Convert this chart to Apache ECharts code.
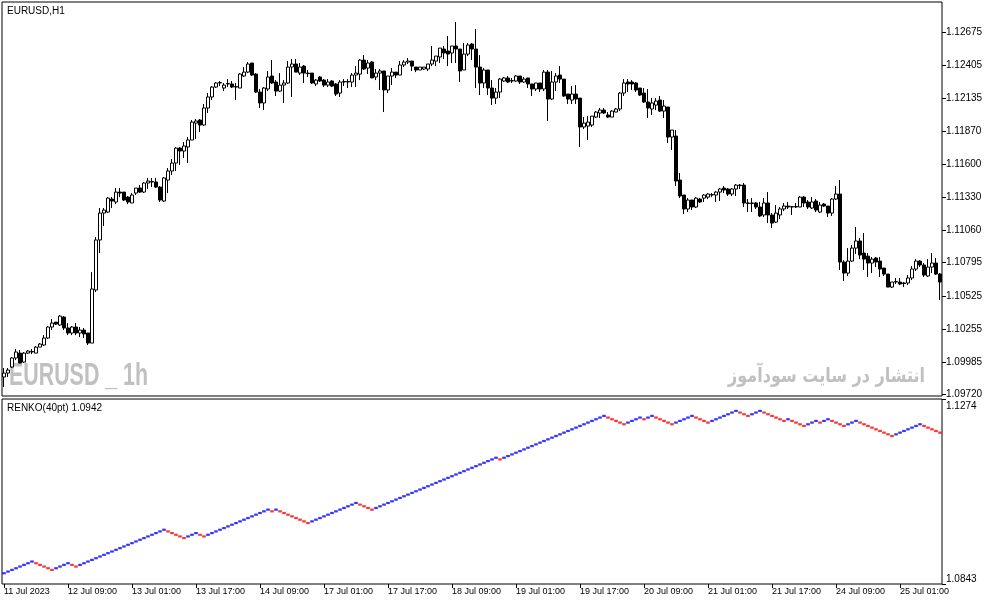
<!DOCTYPE html>
<html>
<head>
<meta charset="UTF-8">
<title>EURUSD H1 - Renko</title>
<style>
html,body{margin:0;padding:0;background:#fff;}
#main{width:987px;height:605px;}
</style>
</head>
<body>
<div id="main"></div>
<script src="https://cdn.jsdelivr.net/npm/echarts@6.0.0/dist/echarts.min.js"></script>
<script>
// hourly candles, [open, close, low, high]
var ohlc = [
[1.09862,1.09894,1.09780,1.09935],[1.09894,1.09919,1.09862,1.09935],[1.09943,1.10017,1.09935,1.10025],[1.10017,1.10066,1.10000,1.10090],
[1.10057,1.09976,1.09976,1.10082],[1.09984,1.10057,1.09976,1.10066],[1.10057,1.10074,1.10049,1.10082],[1.10066,1.10070,1.10049,1.10090],
[1.10057,1.10106,1.10057,1.10115],[1.10106,1.10131,1.10106,1.10139],[1.10123,1.10180,1.10115,1.10204],[1.10180,1.10270,1.10172,1.10278],
[1.10270,1.10302,1.10245,1.10335],[1.10310,1.10294,1.10286,1.10310],[1.10286,1.10359,1.10278,1.10368],[1.10351,1.10262,1.10245,1.10359],
[1.10262,1.10221,1.10204,1.10302],[1.10221,1.10270,1.10204,1.10278],[1.10270,1.10221,1.10204,1.10302],[1.10221,1.10245,1.10188,1.10270],
[1.10245,1.10213,1.10180,1.10262],[1.10221,1.10139,1.10123,1.10221],[1.10139,1.10580,1.10139,1.10718],[1.10572,1.10980,1.10555,1.11004],
[1.10980,1.11200,1.10873,1.11241],[1.11200,1.11224,1.11094,1.11241],[1.11208,1.11322,1.11200,1.11330],[1.11314,1.11298,1.11241,1.11330],
[1.11290,1.11371,1.11273,1.11404],[1.11371,1.11363,1.11330,1.11404],[1.11371,1.11306,1.11298,1.11371],[1.11330,1.11290,1.11273,1.11339],
[1.11282,1.11347,1.11282,1.11363],[1.11363,1.11404,1.11347,1.11404],[1.11404,1.11371,1.11363,1.11428],[1.11371,1.11445,1.11363,1.11453],
[1.11445,1.11461,1.11396,1.11486],[1.11453,1.11457,1.11412,1.11486],[1.11453,1.11412,1.11404,1.11486],[1.11412,1.11306,1.11290,1.11420],
[1.11298,1.11486,1.11290,1.11494],[1.11469,1.11543,1.11363,1.11567],[1.11543,1.11608,1.11510,1.11641],[1.11608,1.11730,1.11543,1.11739],
[1.11730,1.11706,1.11592,1.11739],[1.11706,1.11747,1.11649,1.11779],[1.11739,1.11796,1.11608,1.11820],[1.11796,1.11942,1.11796,1.11959],
[1.11934,1.11951,1.11804,1.11967],[1.11959,1.11918,1.11861,1.11967],[1.11918,1.12057,1.11910,1.12090],[1.12057,1.12147,1.12016,1.12179],
[1.12147,1.12228,1.12122,1.12236],[1.12228,1.12261,1.12220,1.12269],[1.12261,1.12265,1.12236,1.12277],[1.12220,1.12244,1.12195,1.12261],
[1.12253,1.12257,1.12228,1.12293],[1.12253,1.12228,1.12220,1.12277],[1.12228,1.12232,1.12122,1.12261],[1.12220,1.12334,1.12220,1.12342],
[1.12318,1.12350,1.12310,1.12391],[1.12350,1.12416,1.12342,1.12432],[1.12424,1.12326,1.12318,1.12424],[1.12334,1.12187,1.12179,1.12342],
[1.12187,1.12098,1.12057,1.12212],[1.12098,1.12220,1.12040,1.12228],[1.12212,1.12310,1.12195,1.12359],[1.12318,1.12261,1.12253,1.12448],
[1.12269,1.12195,1.12155,1.12285],[1.12195,1.12244,1.12187,1.12342],[1.12244,1.12261,1.12098,1.12285],[1.12261,1.12391,1.12253,1.12440],
[1.12391,1.12416,1.12147,1.12457],[1.12416,1.12350,1.12350,1.12457],[1.12342,1.12391,1.12326,1.12424],[1.12399,1.12342,1.12261,1.12408],
[1.12342,1.12338,1.12310,1.12367],[1.12342,1.12261,1.12253,1.12342],[1.12253,1.12285,1.12236,1.12293],[1.12310,1.12277,1.12269,1.12318],
[1.12285,1.12244,1.12228,1.12293],[1.12244,1.12269,1.12228,1.12293],[1.12277,1.12236,1.12228,1.12285],[1.12253,1.12171,1.12155,1.12261],
[1.12179,1.12269,1.12147,1.12285],[1.12269,1.12273,1.12236,1.12293],[1.12273,1.12269,1.12220,1.12293],[1.12269,1.12326,1.12228,1.12342],
[1.12326,1.12342,1.12228,1.12399],[1.12334,1.12448,1.12285,1.12457],[1.12448,1.12375,1.12367,1.12489],[1.12383,1.12424,1.12334,1.12448],
[1.12432,1.12302,1.12302,1.12440],[1.12310,1.12342,1.12285,1.12375],[1.12342,1.12359,1.12204,1.12375],[1.12359,1.12204,1.12024,1.12359],
[1.12204,1.12318,1.12179,1.12318],[1.12318,1.12350,1.12244,1.12383],[1.12350,1.12326,1.12302,1.12350],[1.12326,1.12408,1.12326,1.12440],
[1.12408,1.12432,1.12391,1.12448],[1.12432,1.12440,1.12416,1.12465],[1.12440,1.12399,1.12359,1.12440],[1.12391,1.12367,1.12350,1.12391],
[1.12367,1.12391,1.12367,1.12391],[1.12375,1.12391,1.12367,1.12391],[1.12375,1.12416,1.12359,1.12416],[1.12416,1.12448,1.12399,1.12563],
[1.12440,1.12481,1.12399,1.12481],[1.12473,1.12546,1.12424,1.12546],[1.12538,1.12506,1.12457,1.12563],[1.12522,1.12497,1.12399,1.12644],
[1.12506,1.12563,1.12424,1.12563],[1.12563,1.12538,1.12424,1.12759],[1.12538,1.12359,1.12269,1.12538],[1.12367,1.12497,1.12367,1.12587],
[1.12497,1.12571,1.12481,1.12587],[1.12579,1.12538,1.12448,1.12587],[1.12538,1.12391,1.12220,1.12701],[1.12391,1.12261,1.12163,1.12489],
[1.12261,1.12367,1.12220,1.12383],[1.12367,1.12220,1.12163,1.12367],[1.12220,1.12138,1.12081,1.12285],[1.12138,1.12187,1.12090,1.12220],
[1.12187,1.12293,1.12138,1.12302],[1.12277,1.12302,1.12269,1.12310],[1.12302,1.12269,1.12261,1.12318],[1.12277,1.12281,1.12261,1.12302],
[1.12277,1.12318,1.12269,1.12326],[1.12318,1.12269,1.12253,1.12318],[1.12269,1.12293,1.12261,1.12310],[1.12302,1.12253,1.12220,1.12302],
[1.12253,1.12212,1.12155,1.12253],[1.12212,1.12261,1.12195,1.12261],[1.12261,1.12212,1.12187,1.12261],[1.12212,1.12350,1.12195,1.12367],
[1.12350,1.12130,1.11951,1.12367],[1.12130,1.12269,1.12122,1.12359],[1.12269,1.12318,1.12195,1.12342],[1.12326,1.12293,1.12261,1.12399],
[1.12293,1.12155,1.12147,1.12293],[1.12171,1.12130,1.12090,1.12171],[1.12122,1.12171,1.12090,1.12236],[1.12171,1.12130,1.12090,1.12244],
[1.12138,1.11902,1.11739,1.12138],[1.11902,1.11934,1.11885,1.11983],[1.11910,1.11942,1.11796,1.11991],[1.11918,1.11991,1.11902,1.11991],
[1.11983,1.12024,1.11975,1.12032],[1.12016,1.12040,1.11975,1.12057],[1.12040,1.12016,1.12008,1.12057],[1.12000,1.11983,1.11975,1.12024],
[1.11983,1.12032,1.11983,1.12040],[1.12024,1.12049,1.12024,1.12057],[1.12049,1.12179,1.12032,1.12187],[1.12179,1.12261,1.12155,1.12293],
[1.12269,1.12253,1.12187,1.12293],[1.12269,1.12253,1.12204,1.12285],[1.12261,1.12204,1.12187,1.12269],[1.12220,1.12163,1.12155,1.12220],
[1.12179,1.12106,1.12098,1.12220],[1.12106,1.12057,1.11975,1.12212],[1.12049,1.12098,1.12000,1.12138],[1.12081,1.12114,1.12040,1.12138],
[1.12122,1.12032,1.12024,1.12155],[1.12032,1.12073,1.11975,1.12122],[1.12065,1.11820,1.11771,1.12065],[1.11820,1.11877,1.11714,1.11877],
[1.11828,1.11461,1.11420,1.11877],[1.11469,1.11339,1.11322,1.11526],[1.11347,1.11233,1.11192,1.11347],[1.11233,1.11306,1.11208,1.11322],
[1.11306,1.11249,1.11224,1.11306],[1.11249,1.11322,1.11241,1.11330],[1.11314,1.11290,1.11282,1.11322],[1.11322,1.11347,1.11290,1.11355],
[1.11330,1.11355,1.11314,1.11363],[1.11347,1.11351,1.11330,1.11363],[1.11347,1.11371,1.11290,1.11379],[1.11371,1.11396,1.11298,1.11404],
[1.11404,1.11388,1.11363,1.11420],[1.11396,1.11355,1.11339,1.11404],[1.11355,1.11396,1.11339,1.11404],[1.11396,1.11428,1.11339,1.11437],
[1.11428,1.11424,1.11396,1.11437],[1.11428,1.11282,1.11249,1.11445],[1.11282,1.11278,1.11208,1.11314],[1.11278,1.11282,1.11208,1.11322],
[1.11282,1.11249,1.11233,1.11290],[1.11249,1.11176,1.11167,1.11290],[1.11184,1.11282,1.11167,1.11322],[1.11282,1.11184,1.11118,1.11371],
[1.11184,1.11118,1.11078,1.11200],[1.11126,1.11200,1.11118,1.11265],[1.11184,1.11233,1.11151,1.11249],[1.11233,1.11257,1.11216,1.11282],
[1.11257,1.11249,1.11233,1.11290],[1.11249,1.11253,1.11184,1.11253],[1.11253,1.11249,1.11241,1.11282],[1.11249,1.11330,1.11249,1.11339],
[1.11330,1.11282,1.11249,1.11339],[1.11290,1.11249,1.11233,1.11306],[1.11241,1.11290,1.11233,1.11330],[1.11298,1.11224,1.11208,1.11314],
[1.11208,1.11265,1.11200,1.11290],[1.11273,1.11257,1.11249,1.11282],[1.11257,1.11200,1.11167,1.11257],[1.11200,1.11314,1.11176,1.11322],
[1.11314,1.11355,1.11306,1.11420],[1.11355,1.10800,1.10735,1.11469],[1.10800,1.10710,1.10645,1.10816],[1.10710,1.10808,1.10686,1.10914],
[1.10808,1.10914,1.10800,1.10939],[1.10914,1.10972,1.10865,1.11086],[1.10972,1.10857,1.10824,1.10996],[1.10873,1.10824,1.10735,1.11037],
[1.10848,1.10792,1.10678,1.10873],[1.10792,1.10824,1.10710,1.10841],[1.10833,1.10800,1.10759,1.10841],[1.10808,1.10743,1.10678,1.10841],
[1.10751,1.10702,1.10686,1.10751],[1.10702,1.10596,1.10596,1.10702],[1.10596,1.10637,1.10588,1.10637],[1.10637,1.10641,1.10621,1.10670],
[1.10637,1.10621,1.10612,1.10670],[1.10629,1.10625,1.10596,1.10637],[1.10629,1.10670,1.10612,1.10694],[1.10670,1.10743,1.10653,1.10767],
[1.10743,1.10808,1.10727,1.10824],[1.10808,1.10776,1.10759,1.10816],[1.10776,1.10694,1.10678,1.10792],[1.10686,1.10759,1.10678,1.10824],
[1.10759,1.10792,1.10710,1.10873],[1.10792,1.10702,1.10694,1.10833],[1.10702,1.10637,1.10490,1.10710]
];

// time labels, one every 16 bars
var timeLabels = ['11 Jul 2023','12 Jul 09:00','13 Jul 01:00','13 Jul 17:00','14 Jul 09:00',
  '17 Jul 01:00','17 Jul 17:00','18 Jul 09:00','19 Jul 01:00','19 Jul 17:00',
  '20 Jul 09:00','21 Jul 01:00','21 Jul 17:00','24 Jul 09:00','25 Jul 01:00'];
var labelStep = 16;

// price scale labels
var priceTicks = [1.09720,1.09985,1.10255,1.10525,1.10795,1.11060,1.11330,1.11600,1.11870,1.12135,1.12405,1.12675];
var renkoScale = [1.0843, 1.1274];

// renko bricks: runs of up (+) / down (-) bricks after the first one
var renkoRuns = [7,-5,4,-2,22,-5,3,-2,16,-1,1,-8,12,-4,31,-1,26,-5,4,-1,2,-5,5,-4,7,-3,3,-6,1,-4,3,-1,2,-4,3,-9,7,-5];
var renkoStart = 1.0868;
var renkoBrick = 0.00039;

var cats = ohlc.map(function(d, i){ return i; });

var upBricks = [], downBricks = [];
var lvl = 0, k = 0;
upBricks.push([k++, renkoStart]);
renkoRuns.forEach(function(r){
  var n = Math.abs(r), dir = r > 0 ? 1 : -1;
  for (var j = 0; j < n; j++) {
    lvl += dir;
    var p = renkoStart + lvl * renkoBrick;
    (dir > 0 ? upBricks : downBricks).push([k++, p]);
  }
});

function showTick(i){ return i % labelStep === 0; }

var chart = echarts.init(document.getElementById('main'));
chart.setOption({
  animation: false,
  backgroundColor: '#ffffff',
  textStyle: {fontFamily: 'Liberation Sans'},
  grid: [
    {left: 2, top: 2, width: 940, height: 394, show: true, borderColor: '#000', borderWidth: 1, backgroundColor: '#fff'},
    {left: 2, top: 399, width: 940, height: 185, show: true, borderColor: '#000', borderWidth: 1, backgroundColor: '#fff'}
  ],
  xAxis: [
    {type: 'category', gridIndex: 0, data: cats, boundaryGap: true, show: false},
    {type: 'category', gridIndex: 1, data: cats, boundaryGap: true,
      axisLine: {show: false},
      axisTick: {show: true, interval: showTick, alignWithLabel: true, length: 4, lineStyle: {color: '#000'}},
      axisLabel: {interval: showTick, align: 'left', margin: 3, fontSize: 9, color: '#000',
        formatter: function(v, i){ return timeLabels[i / labelStep] || ''; }}
    }
  ],
  yAxis: [
    {type: 'value', gridIndex: 0, position: 'right', min: 1.09707, max: 1.12922, scale: true,
      splitLine: {show: false}, axisLine: {show: false},
      axisTick: {show: true, customValues: priceTicks, length: 4, lineStyle: {color: '#000'}},
      axisLabel: {customValues: priceTicks, color: '#000', fontSize: 10, margin: 4,
        formatter: function(v){ return v.toFixed(5); }}
    },
    {type: 'value', gridIndex: 1, position: 'right', min: renkoScale[0], max: renkoScale[1], scale: true,
      splitLine: {show: false}, axisLine: {show: false},
      axisTick: {show: true, customValues: renkoScale, length: 4, lineStyle: {color: '#000'}},
      axisLabel: {customValues: renkoScale, color: '#000', fontSize: 10, margin: 4,
        verticalAlignMinLabel: 'bottom', verticalAlignMaxLabel: 'top', padding: [2, 0, 0, 0],
        formatter: function(v){ return v.toFixed(4); }}
    }
  ],
  series: [
    {type: 'candlestick', xAxisIndex: 0, yAxisIndex: 0, data: ohlc, barWidth: 3, silent: true,
      itemStyle: {color: '#ffffff', color0: '#000000', borderColor: '#000000', borderColor0: '#000000', borderWidth: 1}},
    {type: 'scatter', xAxisIndex: 1, yAxisIndex: 1, data: upBricks, symbol: 'rect', symbolSize: [3.6, 2.2], silent: true,
      itemStyle: {color: '#0000ff'}},
    {type: 'scatter', xAxisIndex: 1, yAxisIndex: 1, data: downBricks, symbol: 'rect', symbolSize: [3.6, 2.2], silent: true,
      itemStyle: {color: '#ff0000'}}
  ],
  graphic: [
    {type: 'text', left: 7, top: 6, silent: true,
      style: {text: 'EURUSD,H1', fill: '#000', font: '10px "Liberation Sans"'}},
    {type: 'text', left: 7, top: 403, silent: true,
      style: {text: 'RENKO(40pt) 1.0942', fill: '#000', font: '10px "Liberation Sans"'}},
    {type: 'text', x: 9, y: 361, scaleX: 0.69, silent: true,
      style: {text: 'EURUSD _ 1h', fill: '#c0c0c0', font: 'bold 31px "Liberation Sans"'}},
    {type: 'text', x: 925, y: 367, scaleX: 0.8, silent: true,
      style: {text: 'انتشار در سایت سودآموز', fill: '#c0c0c0', align: 'right', font: 'bold 20px "DejaVu Sans"'}}
  ]
});
</script>
</body>
</html>
